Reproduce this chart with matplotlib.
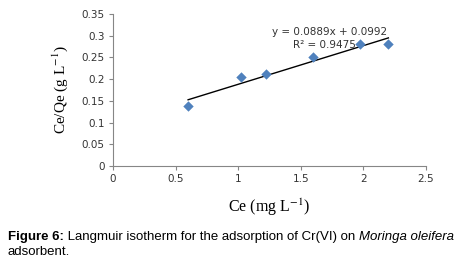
import numpy as np
import matplotlib.pyplot as plt

plt.rcParams['mathtext.fontset'] = 'stix'

# data
ce = np.array([0.6, 1.02, 1.22, 1.6, 1.97, 2.2])
ce_qe = np.array([0.138, 0.206, 0.211, 0.252, 0.281, 0.281])
slope, intercept = 0.0889, 0.0992
xticks = [0, 0.5, 1, 1.5, 2, 2.5]
yticks = [0, 0.05, 0.1, 0.15, 0.2, 0.25, 0.3, 0.35]

fig = plt.figure(figsize=(4.63, 2.62), dpi=100)
ax = fig.add_axes([0.244, 0.366, 0.676, 0.581])

ax.scatter(ce, ce_qe, marker='D', s=28, color='#4F81BD', zorder=3, linewidths=0)
xl = np.array([ce.min(), ce.max()])
ax.plot(xl, slope * xl + intercept, color='black', lw=1)

ax.set_xlim(0, 2.5)
ax.set_ylim(0, 0.35)
ax.set_xticks(xticks)
ax.set_xticklabels([f'{t:g}' for t in xticks])
ax.set_yticks(yticks)
ax.set_yticklabels([f'{t:g}' for t in yticks])
for s in ['top', 'right']:
    ax.spines[s].set_visible(False)
for s in ['left', 'bottom']:
    ax.spines[s].set_color('#868686')
    ax.spines[s].set_linewidth(0.8)
ax.tick_params(labelsize=7.5, colors='#868686', labelcolor='#333333', length=3, width=0.8, pad=3)

ax.text(1.733, 0.3086, 'y = 0.0889x + 0.0992', ha='center', va='center', fontsize=7.5, color='#333333')
ax.text(1.69, 0.2786, 'R² = 0.9475', ha='center', va='center', fontsize=7.5, color='#333333')

ax.set_ylabel('Ce/Qe (g L$^{-1}$)', family='Liberation Serif', fontsize=11, labelpad=8)
ax.set_xlabel('Ce (mg L$^{-1}$)', family='Liberation Serif', fontsize=11.5, labelpad=9)

# caption, built piece by piece
fig.canvas.draw()
r = fig.canvas.get_renderer()
pieces = [('Figure 6:', 'bold', 'normal'),
          (' Langmuir isotherm for the adsorption of Cr(VI) on ', 'normal', 'normal'),
          ('Moringa oleifera', 'normal', 'italic')]
x = 8 / 463
for txt, w, st in pieces:
    t = fig.text(x, 1 - 237 / 262, txt, family='Liberation Sans', fontsize=9.58,
                 weight=w, style=st, va='center', ha='left')
    bb = t.get_window_extent(r)
    x = bb.x1 / fig.bbox.width
fig.text(8 / 463, 1 - 252 / 262, 'adsorbent.', family='Liberation Sans', fontsize=9.58,
         va='center', ha='left')

fig.savefig('out.png', dpi=100)
